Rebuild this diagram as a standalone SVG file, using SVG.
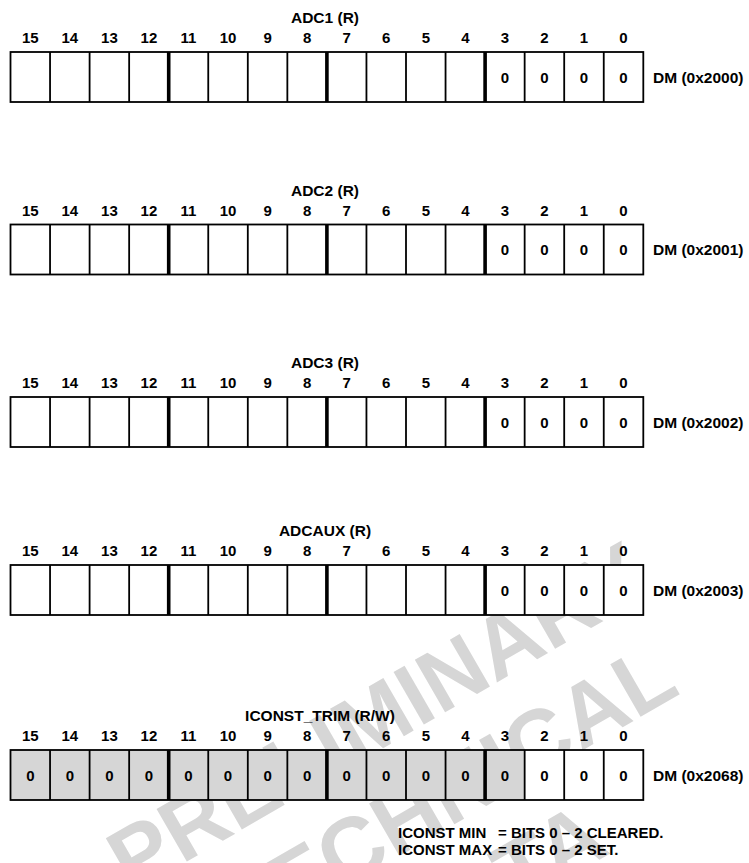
<svg xmlns="http://www.w3.org/2000/svg" xmlns:xlink="http://www.w3.org/1999/xlink" width="749" height="863" viewBox="0 0 749 863">
<style>
text{font-family:"Liberation Sans",Arial,Helvetica,sans-serif;font-weight:bold;fill:#000}
.b{font-size:15px;text-anchor:middle}
.t{font-size:15.5px;text-anchor:middle}
.dm{font-size:15.5px}
.v{font-size:15px;text-anchor:middle}
.n{font-size:15px}
.wm{font-size:88px;fill:#d6d6d6;text-anchor:middle}
.thin{stroke:#000;stroke-width:1.8;fill:none}
.thick{stroke:#000;stroke-width:3.6;fill:none}
.cell{fill:#fff}
.sh{fill:#d6d6d6}
</style>
<defs>
<g id="frame">
<rect x="10.5" y="0" width="632.8" height="50" class="thin" stroke-width="2"/>
<path class="thin" d="M50.05 0V50M89.6 0V50M129.15 0V50M208.25 0V50M247.8 0V50M287.35 0V50M366.45 0V50M406 0V50M445.55 0V50M524.65 0V50M564.2 0V50M603.75 0V50"/>
<path class="thick" d="M168.7 0V50M326.9 0V50M485.1 0V50"/>
</g>
<g id="bits">
<text class="b" x="30.3" y="-9">15</text><text class="b" x="69.8" y="-9">14</text><text class="b" x="109.4" y="-9">13</text><text class="b" x="148.9" y="-9">12</text>
<text class="b" x="188.5" y="-9">11</text><text class="b" x="228" y="-9">10</text><text class="b" x="267.6" y="-9">9</text><text class="b" x="307.1" y="-9">8</text>
<text class="b" x="346.7" y="-9">7</text><text class="b" x="386.2" y="-9">6</text><text class="b" x="425.8" y="-9">5</text><text class="b" x="465.3" y="-9">4</text>
<text class="b" x="504.9" y="-9">3</text><text class="b" x="544.4" y="-9">2</text><text class="b" x="584" y="-9">1</text><text class="b" x="623.5" y="-9">0</text>
</g>
<g id="low0">
<text class="v" x="504.9" y="30.5">0</text><text class="v" x="544.4" y="30.5">0</text><text class="v" x="584" y="30.5">0</text><text class="v" x="623.5" y="30.5">0</text>
</g>
</defs>

<g id="watermark">
<text class="wm" transform="translate(392,743) rotate(-30)">PRELIMINARY</text>
<text class="wm" transform="translate(462,820) rotate(-30)">TECHNICAL</text>
<text class="wm" transform="translate(512,910) rotate(-30)">DATA</text>
</g>

<g id="adc1" transform="translate(0,52)">
<text class="t" x="325" y="-29">ADC1 (R)</text>
<use xlink:href="#bits"/>
<rect class="cell" x="10.5" y="0" width="632.8" height="50"/>
<use xlink:href="#frame"/>
<use xlink:href="#low0"/>
<text class="dm" x="653" y="30.5">DM (0x2000)</text>
</g>

<g id="adc2" transform="translate(0,224.5)">
<text class="t" x="325" y="-29">ADC2 (R)</text>
<use xlink:href="#bits"/>
<rect class="cell" x="10.5" y="0" width="632.8" height="50"/>
<use xlink:href="#frame"/>
<use xlink:href="#low0"/>
<text class="dm" x="653" y="30.5">DM (0x2001)</text>
</g>

<g id="adc3" transform="translate(0,397)">
<text class="t" x="325" y="-29">ADC3 (R)</text>
<use xlink:href="#bits"/>
<rect class="cell" x="10.5" y="0" width="632.8" height="50"/>
<use xlink:href="#frame"/>
<use xlink:href="#low0"/>
<text class="dm" x="653" y="30.5">DM (0x2002)</text>
</g>

<g id="adcaux" transform="translate(0,565)">
<text class="t" x="325" y="-29">ADCAUX (R)</text>
<use xlink:href="#bits"/>
<rect class="cell" x="10.5" y="0" width="632.8" height="50"/>
<use xlink:href="#frame"/>
<use xlink:href="#low0"/>
<text class="dm" x="653" y="30.5">DM (0x2003)</text>
</g>

<g id="iconst_trim" transform="translate(0,750)">
<text class="t" x="320" y="-29">ICONST_TRIM (R/W)</text>
<use xlink:href="#bits"/>
<rect class="sh" x="10.5" y="0" width="514.15" height="50"/>
<rect class="cell" x="524.65" y="0" width="118.65" height="50"/>
<use xlink:href="#frame"/>
<text class="v" x="30.3" y="30.5">0</text><text class="v" x="69.8" y="30.5">0</text><text class="v" x="109.4" y="30.5">0</text><text class="v" x="148.9" y="30.5">0</text>
<text class="v" x="188.5" y="30.5">0</text><text class="v" x="228" y="30.5">0</text><text class="v" x="267.6" y="30.5">0</text><text class="v" x="307.1" y="30.5">0</text>
<text class="v" x="346.7" y="30.5">0</text><text class="v" x="386.2" y="30.5">0</text><text class="v" x="425.8" y="30.5">0</text><text class="v" x="465.3" y="30.5">0</text>
<use xlink:href="#low0"/>
<text class="dm" x="653" y="30.5">DM (0x2068)</text>
</g>

<g id="note">
<text class="n" x="398" y="838">ICONST MIN<tspan x="498">= BITS 0 – 2 CLEARED.</tspan></text>
<text class="n" x="398" y="855">ICONST MAX<tspan x="498">= BITS 0 – 2 SET.</tspan></text>
</g>
</svg>
